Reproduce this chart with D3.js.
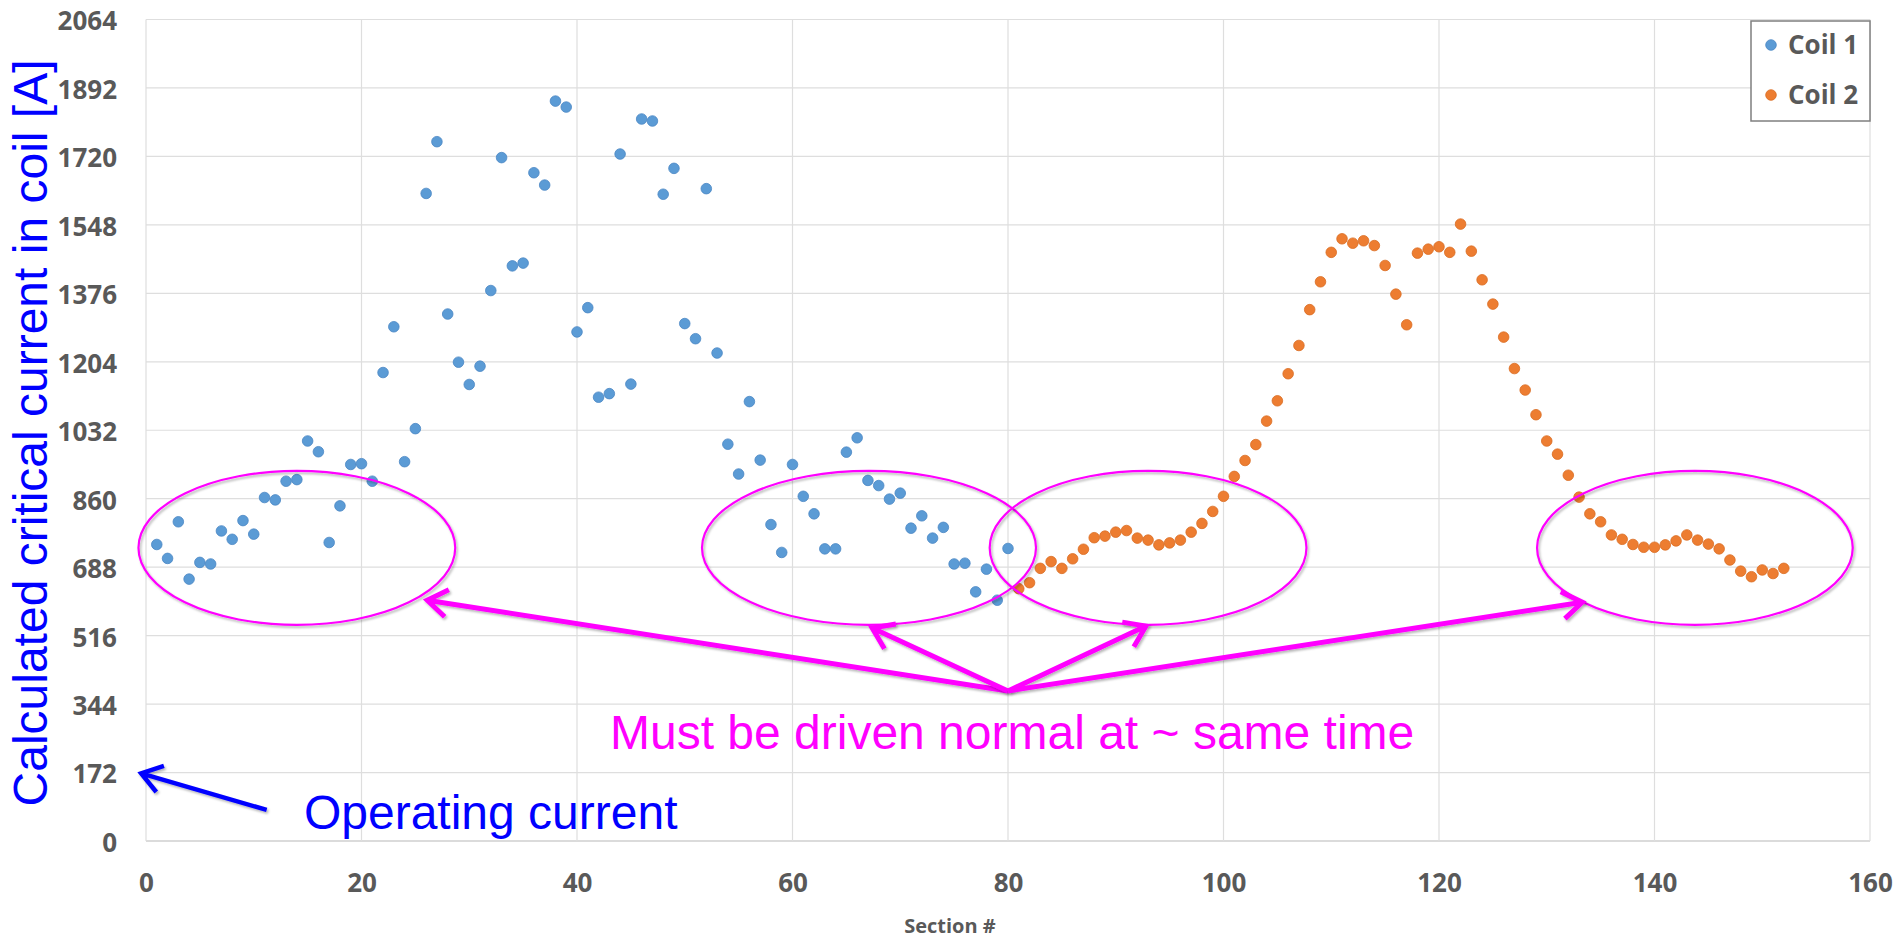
<!DOCTYPE html>
<html>
<head>
<meta charset="utf-8">
<script src="https://cdn.jsdelivr.net/npm/d3@7"></script>
<style>
  html, body { margin: 0; padding: 0; background: #fff; }
  svg { display: block; }
</style>
</head>
<body>
<script>
// Calculated critical current per section, coil 1 (sections 1-80) and coil 2 (sections 81-152)
const coil1Sections = d3.range(1, 81);
const coil1Values = [
  745, 710, 802, 658, 700, 696, 779, 758, 805, 771,
  863, 857, 904, 908, 1005, 978, 750, 842, 946, 948,
  904, 1177, 1292, 953, 1036, 1627, 1757, 1324, 1203, 1147,
  1193, 1383, 1717, 1445, 1452, 1679, 1648, 1859, 1844, 1279,
  1340, 1115, 1124, 1726, 1148, 1814, 1809, 1625, 1690, 1300,
  1262, 1639, 1226, 997, 922, 1104, 957, 795, 725, 946,
  866, 822, 734, 734, 977, 1013, 906, 893, 859, 874,
  786, 817, 761, 788, 696, 698, 626, 683, 605, 735
];
const coil2Sections = d3.range(81, 153);
const coil2Values = [
  634, 649, 685, 702, 685, 709, 733, 762, 766, 776,
  780, 761, 756, 744, 749, 756, 776, 798, 828, 866,
  916, 956, 996, 1055, 1106, 1174, 1245, 1335, 1405, 1479,
  1513, 1502, 1508, 1496, 1446, 1374, 1297, 1477, 1487, 1493,
  1479, 1550, 1482, 1410, 1349, 1266, 1187, 1133, 1071, 1005,
  972, 919, 864, 822, 802, 769, 758, 745, 738, 738,
  744, 754, 769, 756, 746, 734, 706, 678, 664, 681,
  672, 685
];
const seriesNames = ["Coil 1", "Coil 2"];
const seriesColors = ["#5B9BD5", "#ED7D31"];
const seriesStroke = ["#4A87C4", "#D96C22"];

const xTicks = [0, 20, 40, 60, 80, 100, 120, 140, 160];
const yTicks = [0, 172, 344, 516, 688, 860, 1032, 1204, 1376, 1548, 1720, 1892, 2064];

// Annotation regions in data units: [section from, section to, current from, current to]
const ringRegions = [
  [-0.7, 28.7, 543, 930],
  [51.6, 82.6, 543, 930],
  [78.3, 107.7, 543, 930],
  [129.1, 158.4, 543, 930]
];
const arrowOrigin = [80.0, 377];
const arrowTargets = [[26.1, 605], [67.4, 535], [92.8, 540], [133.3, 600]];
const opArrow = { from: [11.2, 78], to: [-0.45, 170] };

const W = 1899, H = 940;
const x = d3.scaleLinear().domain([0, 160]).range([146, 1870]);
const y = d3.scaleLinear().domain([0, 2064]).range([841, 19.5]);

const svg = d3.select("body").append("svg")
  .attr("width", W).attr("height", H)
  .style("background", "#fff");

const defs = svg.append("defs");
const sh = defs.append("filter").attr("id", "shade")
  .attr("x", "-10%").attr("y", "-10%").attr("width", "130%").attr("height", "130%");
sh.append("feDropShadow").attr("dx", 1.5).attr("dy", 2).attr("stdDeviation", 1.3)
  .attr("flood-color", "#000").attr("flood-opacity", 0.28);

// Grid
const grid = svg.append("g");
grid.selectAll("line.h").data(yTicks).join("line")
  .attr("x1", x(0)).attr("x2", x(160))
  .attr("y1", d => y(d)).attr("y2", d => y(d))
  .attr("stroke", d => d === 0 ? "#CFCFCF" : "#DEDEDE")
  .attr("stroke-width", d => d === 0 ? 1.6 : 1.2);
grid.selectAll("line.v").data(xTicks).join("line")
  .attr("x1", d => x(d)).attr("x2", d => x(d))
  .attr("y1", y(2064)).attr("y2", y(0))
  .attr("stroke", "#DEDEDE").attr("stroke-width", 1.2);

// Axes
const tickFont = "'Open Sans', 'DejaVu Sans', sans-serif";
const yAxis = svg.append("g").attr("transform", `translate(${x(0) - 29},0)`)
  .call(d3.axisLeft(y).tickValues(yTicks).tickSize(0).tickPadding(0).tickFormat(d3.format("d")));
yAxis.select(".domain").remove();
yAxis.selectAll("text")
  .attr("font-family", tickFont).attr("font-weight", 700).attr("font-size", 26)
  .attr("fill", "#595959").attr("dy", "0.4em");

const xAxis = svg.append("g").attr("transform", `translate(0,${y(0) + 33})`)
  .call(d3.axisBottom(x).tickValues(xTicks).tickSize(0).tickPadding(0).tickFormat(d3.format("d")));
xAxis.select(".domain").remove();
xAxis.selectAll("text")
  .attr("font-family", tickFont).attr("font-weight", 700).attr("font-size", 26)
  .attr("fill", "#595959").attr("dy", "0.71em");

svg.append("text")
  .attr("x", 950).attr("y", 933)
  .attr("text-anchor", "middle")
  .attr("font-family", tickFont).attr("font-weight", 700).attr("font-size", 20)
  .attr("fill", "#595959")
  .text("Section #");

// Y axis title
svg.append("text")
  .attr("transform", "translate(47,433) rotate(-90)")
  .attr("text-anchor", "middle")
  .attr("font-family", "'Liberation Sans', Arial, sans-serif")
  .attr("font-size", 48)
  .attr("fill", "#0000FF")
  .text("Calculated critical current in coil [A]");

// Points
const series = [
  coil1Sections.map((s, i) => ({ s, v: coil1Values[i], k: 0 })),
  coil2Sections.map((s, i) => ({ s, v: coil2Values[i], k: 1 }))
];
series.forEach((pts, k) => {
  svg.append("g").selectAll("circle").data(pts).join("circle")
    .attr("cx", d => x(d.s)).attr("cy", d => y(d.v)).attr("r", 5.3)
    .attr("fill", seriesColors[k])
    .attr("stroke", seriesStroke[k]).attr("stroke-width", 0.8);
});

// Legend
const lg = svg.append("g");
lg.append("rect").attr("x", 1751).attr("y", 21).attr("width", 119).attr("height", 100)
  .attr("fill", "#fff").attr("stroke", "#7F7F7F").attr("stroke-width", 1.5);
seriesNames.forEach((name, i) => {
  const cy = 45 + i * 50;
  lg.append("circle").attr("cx", 1771).attr("cy", cy).attr("r", 5.3)
    .attr("fill", seriesColors[i]).attr("stroke", seriesStroke[i]).attr("stroke-width", 0.8);
  lg.append("text").attr("x", 1788).attr("y", cy).attr("dy", "0.35em")
    .attr("font-family", tickFont).attr("font-weight", 700).attr("font-size", 26)
    .attr("fill", "#595959").text(name);
});

// Annotations
const ann = svg.append("g");
ringRegions.forEach(r => {
  const x0 = x(r[0]), x1 = x(r[1]), y0 = y(r[3]), y1 = y(r[2]);
  ann.append("ellipse")
    .attr("cx", (x0 + x1) / 2).attr("cy", (y0 + y1) / 2)
    .attr("rx", (x1 - x0) / 2).attr("ry", (y1 - y0) / 2)
    .attr("fill", "none").attr("stroke", "#FF00FF").attr("stroke-width", 2.2)
    .attr("filter", "url(#shade)");
});

function openArrow(g, p0, p1, color, width, arm) {
  const ang = Math.atan2(p1[1] - p0[1], p1[0] - p0[0]);
  const spread = Math.PI / 5.2;
  const a1 = [p1[0] - arm * Math.cos(ang - spread), p1[1] - arm * Math.sin(ang - spread)];
  const a2 = [p1[0] - arm * Math.cos(ang + spread), p1[1] - arm * Math.sin(ang + spread)];
  const p = d3.path();
  p.moveTo(p0[0], p0[1]); p.lineTo(p1[0], p1[1]);
  p.moveTo(a1[0], a1[1]); p.lineTo(p1[0], p1[1]); p.lineTo(a2[0], a2[1]);
  g.append("path").attr("d", p.toString())
    .attr("fill", "none").attr("stroke", color).attr("stroke-width", width)
    .attr("stroke-linecap", "butt").attr("stroke-linejoin", "miter")
    .attr("filter", "url(#shade)");
}

const o = [x(arrowOrigin[0]), y(arrowOrigin[1])];
arrowTargets.forEach(t => openArrow(ann, o, [x(t[0]), y(t[1])], "#FF00FF", 5, 24));
openArrow(ann, [x(opArrow.from[0]), y(opArrow.from[1])], [x(opArrow.to[0]), y(opArrow.to[1])], "#0000FF", 4.5, 24);

ann.append("text")
  .attr("x", x(43.06)).attr("y", y(231))
  .attr("font-family", "'Liberation Sans', Arial, sans-serif")
  .attr("font-size", 48).attr("fill", "#FF00FF")
  .text("Must be driven normal at ~ same time");

ann.append("text")
  .attr("x", x(14.66)).attr("y", y(30))
  .attr("font-family", "'Liberation Sans', Arial, sans-serif")
  .attr("font-size", 48).attr("fill", "#0000FF")
  .text("Operating current");
</script>
</body>
</html>
